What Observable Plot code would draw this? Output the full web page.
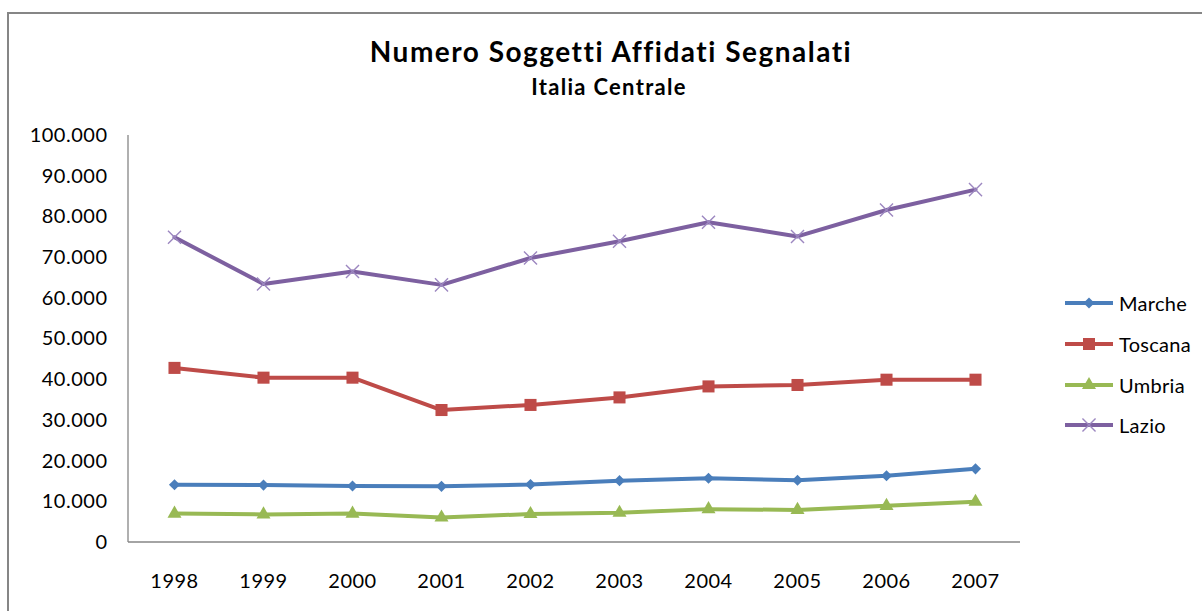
<!DOCTYPE html>
<html>
<head>
<meta charset="utf-8">
<script src="https://cdn.jsdelivr.net/npm/d3@7"></script>
<script src="https://cdn.jsdelivr.net/npm/@observablehq/plot@0.6"></script>
<style>
  body { margin: 0; background: #fff; font-family: Lato, "Open Sans", sans-serif; }
  #wrap { position: relative; width: 1202px; height: 611px; overflow: hidden; background: #fff; }
  #border { position: absolute; left: 7px; top: 12px; width: 1220px; height: 620px;
            border-left: 2px solid #868686; border-top: 2px solid #868686; }
  #title { position: absolute; left: 0; width: 1222px; top: 36px; text-align: center;
           font-weight: bold; font-size: 28px; line-height: 30px; letter-spacing: 1.5px; color: #000; }
  #subtitle { position: absolute; left: 0; width: 1218px; top: 75px; text-align: center;
              font-weight: bold; font-size: 22px; line-height: 24px; letter-spacing: 1.3px; color: #000; }
  #chart { position: absolute; left: 0; top: 100px; }
  #legend { position: absolute; left: 1065px; top: 283px; font-size: 20px; letter-spacing: 0.3px; color: #000; }
  .row { height: 40.7px; display: flex; align-items: center; }
  .row svg { margin-right: 6px; }
</style>
</head>
<body>
<div id="wrap">
  <div id="border"></div>
  <div id="title">Numero Soggetti Affidati Segnalati</div>
  <div id="subtitle">Italia Centrale</div>
  <div id="chart"></div>
  <div id="legend"></div>
</div>
<script>
// ---- data ----
const years = ["1998","1999","2000","2001","2002","2003","2004","2005","2006","2007"];
const seriesNames = ["Marche", "Toscana", "Umbria", "Lazio"];
const marche  = [14200, 14100, 13900, 13800, 14250, 15200, 15800, 15300, 16400, 18100];
const toscana = [42900, 40500, 40500, 32550, 33800, 35650, 38350, 38700, 40000, 40000];
const umbria  = [7100, 6900, 7100, 6150, 7000, 7300, 8200, 8000, 9000, 10000];
const lazio   = [75000, 63500, 66600, 63300, 69900, 74000, 78700, 75200, 81700, 86700];
const yTicks  = [0, 10000, 20000, 30000, 40000, 50000, 60000, 70000, 80000, 90000, 100000];

const colors = { Marche: "#4A7EBB", Toscana: "#BE4B48", Umbria: "#98B954", Lazio: "#7D60A0" };
const valuesBy = { Marche: marche, Toscana: toscana, Umbria: umbria, Lazio: lazio };

const rows = seriesNames.flatMap(name => years.map((year, i) => ({ series: name, year, value: valuesBy[name][i] })));

const itFormat = d3.formatLocale({ decimal: ",", thousands: ".", grouping: [3], currency: ["€", ""] }).format(",d");

const axisLine = (which) => (index, scales, values, dim) => {
  const x0 = dim.marginLeft, x1 = dim.width - dim.marginRight;
  const y0 = dim.marginTop, y1 = dim.height - dim.marginBottom;
  const line = d3.create("svg:line").attr("stroke", "#868686").attr("stroke-width", 1.3);
  if (which === "x") line.attr("x1", x0).attr("x2", x1).attr("y1", y1).attr("y2", y1);
  else line.attr("x1", x0).attr("x2", x0).attr("y1", y0).attr("y2", y1);
  return line.node();
};

const markerOpts = {
  Marche:  { symbol: "diamond2", r: 5, fill: colors.Marche },
  Toscana: { symbol: "square", r: 6.8, fill: colors.Toscana },
  Umbria:  { symbol: "triangle", r: 5.2, fill: colors.Umbria },
  Lazio:   { symbol: "times", r: 6, fill: "none", stroke: "#9C87C0", strokeWidth: 1.4 }
};

const plot = Plot.plot({
  width: 1040,
  height: 500,
  marginLeft: 128,
  marginRight: 20,
  marginTop: 35,
  marginBottom: 58,
  style: { fontFamily: "Lato, 'Open Sans', sans-serif", fontSize: "20px", letterSpacing: "0.5px", color: "#000", background: "transparent" },
  x: { type: "point", domain: years, padding: 0.5, label: null },
  y: { domain: [0, 100000], label: null },
  marks: [
    Plot.axisX({ tickSize: 0, tickPadding: 31, label: null }),
    Plot.axisY({ ticks: yTicks, tickFormat: itFormat, tickSize: 0, tickPadding: 21, label: null }),
    axisLine("x"),
    axisLine("y"),
    ...seriesNames.map(name =>
      Plot.line(rows.filter(d => d.series === name), {
        x: "year", y: "value", stroke: colors[name], strokeWidth: 4, curve: "linear"
      })
    ),
    ...seriesNames.map(name =>
      Plot.dot(rows.filter(d => d.series === name), {
        x: "year", y: "value", ...markerOpts[name]
      })
    )
  ]
});
document.getElementById("chart").appendChild(plot);

// ---- legend ----
const legend = d3.select("#legend");
const symbolPaths = {
  Marche: d3.symbol(d3.symbolDiamond2, Math.PI * 5 * 5)(),
  Toscana: d3.symbol(d3.symbolSquare, Math.PI * 6.8 * 6.8)(),
  Umbria: d3.symbol(d3.symbolTriangle, Math.PI * 5.2 * 5.2)(),
  Lazio: d3.symbol(d3.symbolTimes, Math.PI * 6 * 6)()
};
seriesNames.forEach(name => {
  const row = legend.append("div").attr("class", "row");
  const svg = row.append("svg").attr("width", 48).attr("height", 20);
  svg.append("line").attr("x1", 0).attr("x2", 48).attr("y1", 10).attr("y2", 10)
    .attr("stroke", colors[name]).attr("stroke-width", 4);
  const p = svg.append("path").attr("d", symbolPaths[name]).attr("transform", "translate(24,10)");
  if (name === "Lazio") p.attr("fill", "none").attr("stroke", "#9C87C0").attr("stroke-width", 1.4);
  else p.attr("fill", colors[name]);
  row.append("span").text(name);
});
</script>
</body>
</html>
